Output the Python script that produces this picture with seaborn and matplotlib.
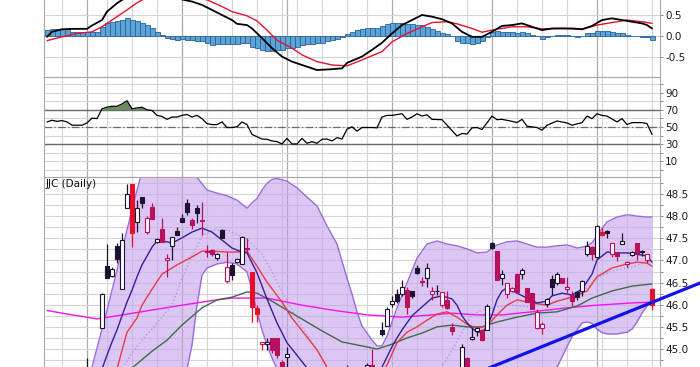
import matplotlib
matplotlib.use("Agg")
import matplotlib.pyplot as plt
from matplotlib.patches import Rectangle
from matplotlib.ticker import FormatStrFormatter
import seaborn as sns

# ---------------- data (x = trading-day index) ----------------
week_days = [3, 12, 17, 22, 32, 37, 42, 47, 50, 55, 60, 64, 74, 79, 84, 94, 99, 104, 111, 116, 121]
month_days = [8, 27, 48, 69, 89, 110]

# MACD panel
macd_days = [0, 1, 3, 5, 8, 9, 11, 12, 14, 15, 18, 21, 24, 27, 29, 31, 33, 35, 37, 38, 40, 41, 43, 45,
             47, 49, 51, 54, 57, 59, 60, 63, 65, 67, 69, 71, 73, 75, 77, 79, 81, 83, 85, 87, 89, 91,
             93, 95, 97, 99, 101, 103, 105, 107, 109, 111, 113, 115, 117, 119, 120, 121]
macd_vals = [-0.02, 0.10, 0.16, 0.17, 0.17, 0.25, 0.38, 0.58, 0.78, 0.86, 1.02, 1.08, 1.03, 0.87,
             0.82, 0.74, 0.62, 0.50, 0.38, 0.29, 0.26, 0.18, -0.05, -0.29, -0.49, -0.61, -0.69,
             -0.81, -0.79, -0.77, -0.64, -0.49, -0.33, -0.16, 0.06, 0.26, 0.38, 0.50, 0.46, 0.40,
             0.30, 0.10, -0.02, -0.02, 0.10, 0.24, 0.26, 0.30, 0.22, 0.14, 0.18, 0.18, 0.18, 0.16,
             0.24, 0.38, 0.42, 0.38, 0.34, 0.30, 0.26, 0.18]
sig_days = [0, 3, 6, 9, 11, 13, 16, 18, 20, 23, 26, 29, 32, 35, 37, 40, 42, 44, 46, 49, 51, 54, 57,
            60, 63, 67, 69, 72, 75, 77, 80, 82, 85, 87, 89, 93, 96, 99, 103, 107, 110, 114, 116,
            119, 121]
sig_vals = [-0.11, -0.02, 0.06, 0.10, 0.22, 0.38, 0.62, 0.79, 0.92, 1.00, 0.99, 0.93, 0.86, 0.70,
            0.58, 0.48, 0.36, 0.14, -0.10, -0.29, -0.45, -0.61, -0.69, -0.71, -0.57, -0.37, -0.14,
            0.06, 0.22, 0.32, 0.34, 0.29, 0.18, 0.09, 0.14, 0.22, 0.22, 0.17, 0.18, 0.16, 0.26,
            0.34, 0.38, 0.34, 0.30]
hist_days = list(range(122))
hist_vals = [0.14, 0.16, 0.16, 0.17, 0.16, 0.09, 0.09, 0.09, 0.09, 0.10, 0.10, 0.22, 0.30, 0.34,
             0.36, 0.38, 0.42, 0.38, 0.36, 0.32, 0.26, 0.18, 0.10, 0.02,
             -0.04, -0.08, -0.10, -0.08, -0.10, -0.10, -0.12, -0.13, -0.17, -0.21, -0.20, -0.20,
             -0.20, -0.20, -0.20, -0.17, -0.16, -0.25, -0.29, -0.33, -0.35, -0.35, -0.33, -0.33,
             -0.29, -0.28, -0.25, -0.21, -0.20, -0.20, -0.17, -0.16, -0.13, -0.10, -0.06, -0.03,
             0.04,
             0.10, 0.14, 0.17, 0.18, 0.20, 0.18, 0.24, 0.29, 0.32, 0.32, 0.32, 0.29, 0.29, 0.26,
             0.26, 0.22, 0.16, 0.13, 0.08, 0.05, 0.005, -0.11, -0.16, -0.17, -0.19, -0.16, -0.11,
             -0.03, 0.09, 0.11, 0.10, 0.10, 0.09, 0.08, 0.09, 0.06, 0.02, 0.005, -0.06, -0.03,
             0.005, 0.02, 0.02, 0.02, 0.005, -0.02, 0.005, 0.06, 0.08, 0.12, 0.13, 0.13, 0.10,
             0.08, 0.06, 0.03, 0.005, 0.005, -0.02, -0.02, -0.10]

# RSI(14)
rsi_days = [0, 1, 2, 3, 4, 5, 7, 8, 9, 10, 11, 12, 13, 14, 15, 16, 17, 18, 19, 20, 21, 22, 23, 24,
            25, 26, 27, 28, 29, 30, 31, 32, 33, 34, 35, 36, 37, 38, 39, 40, 41, 42, 43, 44, 45, 46,
            47, 48, 49, 50, 51, 52, 53, 54, 55, 56, 57, 58, 59, 60, 61, 62, 63, 65, 66, 67, 68, 69,
            71, 72, 73, 74, 75, 76, 77, 79, 80, 82, 83, 84, 85, 86, 87, 89, 90, 91, 93, 94, 95, 96,
            98, 99, 100, 102, 104, 105, 107, 108, 109, 110, 111, 112, 114, 115, 116, 117, 119,
            120, 121]
rsi_vals = [55.9, 57.8, 56.6, 57.4, 55.9, 52.1, 52.1, 54.7, 60.4, 59.7, 71.1, 73.0, 74.1, 74.1,
            76.8, 80.6, 71.1, 72.2, 73.0, 70.0, 69.2, 63.5, 62.3, 58.9, 61.6, 61.6, 63.5, 64.6,
            61.6, 63.5, 59.7, 54.0, 52.8, 52.8, 55.9, 49.4, 49.4, 50.2, 55.9, 52.8, 41.4, 38.7,
            36.0, 35.7, 33.8, 33.0, 30.3, 36.8, 30.3, 30.3, 36.8, 31.1, 33.0, 31.1, 35.7, 36.0,
            33.8, 37.6, 36.0, 47.4, 50.2, 45.2, 49.4, 49.4, 49.0, 61.6, 63.5, 63.5, 65.4, 58.9,
            61.6, 65.4, 62.7, 64.2, 58.9, 58.5, 52.1, 39.5, 42.5, 41.8, 49.0, 49.4, 47.1, 62.7,
            58.5, 58.9, 56.6, 55.1, 58.9, 50.9, 49.4, 46.3, 52.1, 57.0, 54.7, 52.1, 55.1, 62.7,
            59.7, 65.4, 63.5, 62.7, 55.9, 59.7, 52.8, 55.1, 55.1, 54.0, 41.4]

# price panel: Bollinger bands (20,2)
bb_days = [0, 4, 8, 9, 10, 11, 12, 13, 14, 15, 16, 17, 18, 19, 22, 25, 28, 29, 30, 31, 32, 34, 36,
           38, 40, 41, 42, 43, 44, 45, 46, 48, 50, 52, 54, 56, 58, 60, 61, 62, 63, 64, 65, 66, 67,
           68, 69, 70, 72, 74, 76, 78, 80, 82, 84, 86, 88, 90, 92, 94, 96, 98, 100, 102, 103, 104,
           105, 106, 107, 108, 109, 110, 111, 112, 114, 116, 117, 118, 119, 120, 121]
bb_upper = [44.00, 44.10, 44.30, 44.59, 45.02, 45.45, 45.88, 46.33, 46.78, 47.24, 47.69, 48.14,
            48.59, 49.00, 49.40, 49.50, 49.30, 49.05, 48.88, 48.73, 48.59, 48.52, 48.46, 48.36,
            48.18, 48.30, 48.40, 48.59, 48.74, 48.83, 48.85, 48.79, 48.64, 48.43, 48.23, 47.78,
            47.37, 46.60, 46.24, 45.84, 45.52, 45.36, 45.20, 45.07, 45.07, 45.29, 45.61, 45.93,
            46.49, 47.05, 47.37, 47.44, 47.37, 47.33, 47.26, 47.17, 47.19, 47.35, 47.42, 47.44,
            47.37, 47.30, 47.30, 47.33, 47.34, 47.35, 47.32, 47.28, 47.30, 47.33, 47.40, 47.55,
            47.72, 47.87, 47.98, 48.03, 48.02, 48.00, 47.99, 47.98, 47.98]
bb_lower = [43.30, 43.20, 43.10, 43.00, 43.00, 43.00, 43.00, 43.00, 43.00, 43.00, 43.00, 43.00,
            43.00, 43.00, 43.20, 43.60, 44.55, 45.09, 45.99, 46.67, 46.83, 46.92, 46.96, 46.92,
            46.74, 46.33, 45.84, 45.43, 45.09, 44.80, 44.55, 44.10, 43.80, 43.60, 43.50, 43.40,
            43.40, 43.40, 43.40, 43.40, 43.40, 43.40, 43.40, 43.40, 43.40, 43.40, 43.40, 43.40,
            43.50, 43.70, 43.80, 43.90, 44.00, 44.00, 44.00, 44.00, 44.05, 44.10, 44.10, 44.15,
            44.15, 44.20, 44.30, 44.59, 44.82, 45.05, 45.28, 45.43, 45.59, 45.61, 45.58, 45.45,
            45.37, 45.34, 45.34, 45.38, 45.45, 45.61, 45.81, 45.97, 46.05]

# moving averages
fast_days = [11, 12, 13, 14, 15, 16, 17, 18, 19, 21, 22, 24, 25, 27, 29, 31, 33, 35, 37, 39, 40,
             42, 44, 46, 48, 50, 52, 56, 62, 66, 67, 68, 69, 70, 71, 73, 75, 77, 79, 81, 82, 83,
             84, 85, 86, 87, 88, 89, 90, 91, 92, 94, 96, 98, 100, 101, 103, 105, 107, 109, 110,
             112, 114, 116, 118, 120, 121]
fast_vals = [44.55, 44.86, 45.16, 45.43, 45.75, 46.06, 46.33, 46.63, 46.90, 47.30, 47.44, 47.42,
             47.39, 47.51, 47.64, 47.73, 47.64, 47.46, 47.28, 47.19, 47.17, 46.72, 46.13, 45.59,
             45.14, 44.86, 44.57, 44.10, 44.00, 44.40, 44.59, 44.82, 45.05, 45.25, 45.43, 45.75,
             45.95, 46.15, 46.20, 46.13, 45.99, 45.75, 45.59, 45.47, 45.38, 45.38, 45.50, 45.77,
             46.11, 46.31, 46.38, 46.26, 46.15, 46.04, 46.08, 46.20, 46.26, 46.22, 46.35, 46.69,
             47.01, 47.19, 47.17, 47.17, 47.14, 47.10, 46.96]
red_days = [14, 16, 18, 19, 21, 23, 26, 29, 31, 33, 36, 38, 40, 42, 44, 47, 49, 52, 54, 56, 60,
            64, 67, 68, 70, 72, 74, 76, 78, 80, 82, 84, 86, 88, 90, 92, 94, 97, 100, 102, 105,
            108, 110, 113, 116, 118, 120, 121]
red_vals = [44.55, 45.38, 45.70, 45.99, 46.35, 46.69, 46.90, 47.08, 47.21, 47.21, 47.19, 47.19,
            47.21, 46.87, 46.51, 46.06, 45.70, 45.27, 44.98, 44.59, 44.20, 44.20, 44.45, 44.64,
            45.14, 45.38, 45.50, 45.65, 45.79, 45.84, 45.72, 45.56, 45.47, 45.52, 45.77, 45.99,
            46.11, 46.04, 45.99, 46.08, 46.17, 46.31, 46.63, 46.83, 46.92, 46.96, 46.94, 46.87]
mid_days = [15, 17, 19, 21, 23, 25, 27, 29, 31, 33, 36, 37, 40, 43, 45, 48, 51, 54, 56, 62, 70,
            76, 79, 81, 83, 85, 87, 90, 93, 97, 100, 104, 107, 110, 113, 117, 121]
mid_vals = [44.55, 44.91, 45.20, 45.45, 45.72, 45.99, 46.60, 47.10, 47.55, 47.69, 47.69, 47.64,
            47.48, 47.14, 46.74, 46.08, 45.50, 44.98, 44.59, 44.20, 44.10, 44.30, 44.59, 44.98,
            45.38, 45.77, 45.88, 45.95, 45.99, 45.95, 46.04, 46.15, 46.29, 46.60, 46.76, 46.85,
            47.01]
sma50_days = [17, 21, 24, 27, 31, 34, 37, 40, 42, 45, 49, 52, 55, 59, 63, 66, 69, 72, 75, 78, 81,
              84, 87, 90, 94, 98, 102, 106, 109, 113, 117, 121]
sma50_vals = [44.57, 44.95, 45.20, 45.54, 45.93, 46.11, 46.17, 46.29, 46.26, 46.08, 45.81, 45.61,
              45.41, 45.16, 45.07, 45.00, 45.11, 45.25, 45.36, 45.50, 45.54, 45.50, 45.50, 45.61,
              45.72, 45.81, 45.84, 45.97, 46.15, 46.31, 46.42, 46.47]
sma200_days = [0, 4, 10, 14, 21, 27, 34, 37, 44, 51, 57, 64, 71, 77, 81, 86, 91, 97, 104, 110,
               117, 121]
sma200_vals = [45.87, 45.79, 45.68, 45.75, 45.88, 45.99, 46.11, 46.15, 46.15, 45.99, 45.88, 45.77,
               45.72, 45.77, 45.81, 45.77, 45.77, 45.84, 45.93, 45.99, 46.04, 46.06]
trend_days = [80, 135]
trend_vals = [44.19, 46.69]

# daily candles (k = close up, c/r = close down)
cd_day = [8, 11, 12, 13, 14, 15, 16, 17, 18, 19, 20, 21, 22, 23, 24, 25, 26, 27, 28, 29, 30, 31,
          32, 33, 34, 35, 36, 37, 38, 39, 40, 41, 42, 43, 44, 45, 46, 47, 48, 60, 64, 65, 67, 68,
          69, 70, 71, 72, 73, 74, 75, 76, 77, 78, 79, 80, 81, 83, 84, 85, 86, 87, 88, 89, 90, 91,
          92, 93, 94, 95, 96, 97, 98, 99, 100, 101, 102, 103, 104, 105, 106, 107, 108, 109, 110,
          111, 112, 113, 114, 115, 116, 117, 118, 119, 120, 121]
cd_open = [44.40, 45.47, 46.87, 46.65, 47.33, 46.35, 48.19, 48.73, 47.86, 48.44, 47.65, 48.20,
           47.42, 47.72, 47.00, 47.33, 47.66, 47.95, 48.29, 47.91, 48.19, 47.92, 47.22, 47.24,
           47.06, 47.68, 46.54, 46.90, 46.96, 46.92, 47.28, 46.75, 45.92, 45.11, 45.11, 45.24,
           45.24, 44.71, 44.83, 44.30, 44.55, 44.62, 45.43, 45.53, 46.01, 46.24, 46.24, 46.33,
           46.31, 46.84, 46.53, 46.60, 46.24, 46.31, 45.99, 46.11, 45.50, 44.40, 44.79, 45.23,
           45.41, 45.43, 45.43, 47.39, 47.21, 46.60, 46.24, 46.31, 46.69, 46.69, 46.37, 46.26,
           45.47, 45.47, 46.01, 46.57, 46.48, 46.60, 46.35, 46.22, 46.29, 46.31, 47.14, 47.30,
           47.08, 47.65, 47.67, 47.14, 47.16, 47.38, 46.91, 47.12, 47.39, 47.22, 47.01, 46.35]
cd_high = [44.80, 46.27, 47.37, 46.85, 47.40, 47.61, 48.73, 48.73, 48.36, 48.44, 48.00, 48.30,
           47.50, 47.95, 47.14, 47.53, 47.75, 48.05, 48.38, 47.95, 48.25, 48.33, 47.35, 47.26,
           47.16, 47.72, 47.20, 46.95, 47.05, 47.55, 47.51, 46.75, 46.00, 45.16, 45.25, 45.24,
           45.24, 44.75, 45.05, 44.64, 44.68, 45.01, 45.62, 45.95, 46.20, 46.35, 46.55, 46.40,
           46.31, 46.90, 46.62, 46.95, 46.40, 46.45, 46.29, 46.30, 45.58, 45.12, 44.82, 45.50,
           45.50, 45.45, 46.02, 47.42, 47.21, 46.78, 46.48, 46.40, 46.72, 46.83, 46.37, 46.26,
           45.90, 45.60, 46.15, 46.66, 46.75, 46.60, 46.62, 46.30, 46.30, 46.56, 47.43, 47.33,
           47.80, 47.75, 47.68, 47.39, 47.20, 47.62, 46.98, 47.22, 47.39, 47.24, 47.14, 46.38]
cd_low = [44.30, 45.47, 46.60, 46.62, 46.95, 46.35, 48.19, 47.30, 47.65, 48.18, 47.60, 47.93,
          47.40, 47.41, 46.63, 47.00, 47.57, 47.87, 48.03, 47.72, 47.85, 47.57, 47.08, 47.10,
          47.02, 47.50, 46.50, 46.55, 46.95, 46.92, 47.18, 45.62, 45.62, 44.98, 44.98, 44.90,
          44.80, 44.30, 44.50, 44.20, 44.40, 44.40, 45.30, 45.53, 45.95, 46.05, 46.20, 45.78,
          46.15, 46.70, 46.43, 46.40, 46.10, 46.21, 45.95, 45.90, 45.32, 44.30, 44.30, 45.20,
          45.30, 45.18, 45.43, 47.25, 46.55, 46.45, 46.15, 46.28, 46.29, 46.58, 46.07, 45.90,
          45.45, 45.35, 45.95, 46.23, 46.45, 46.48, 46.26, 45.98, 46.10, 46.20, 47.10, 47.00,
          47.05, 47.55, 47.50, 47.08, 46.98, 47.38, 46.85, 47.10, 47.00, 47.10, 46.95, 45.88]
cd_close = [44.50, 46.24, 46.61, 46.80, 47.03, 47.46, 48.50, 47.61, 48.18, 48.30, 47.95, 47.93,
            47.48, 47.41, 47.05, 47.53, 47.57, 47.87, 48.10, 47.80, 48.06, 47.90, 47.19, 47.14,
            47.14, 47.51, 46.86, 46.67, 47.03, 47.52, 47.26, 45.96, 45.79, 45.16, 45.16, 44.98,
            44.86, 44.40, 44.89, 44.50, 44.65, 44.65, 45.33, 45.90, 46.08, 46.08, 46.41, 45.96,
            46.20, 46.72, 46.51, 46.82, 46.32, 46.30, 46.29, 45.93, 45.41, 45.05, 44.40, 45.28,
            45.47, 45.20, 45.98, 47.27, 46.55, 46.69, 46.48, 46.38, 46.29, 46.78, 46.07, 45.90,
            45.84, 45.56, 46.14, 46.41, 46.69, 46.48, 46.39, 46.08, 46.18, 46.54, 47.33, 47.14,
            47.78, 47.57, 47.63, 47.39, 47.11, 47.44, 46.96, 47.20, 47.16, 47.18, 47.14, 45.99]
cd_color = ['k', 'k', 'k', 'k', 'k', 'k', 'k', 'r', 'k', 'k', 'c', 'c', 'k', 'c', 'c', 'k', 'k',
            'k', 'k', 'c', 'k', 'c', 'c', 'c', 'k', 'k', 'c', 'k', 'k', 'k', 'c', 'r', 'r', 'r',
            'k', 'c', 'c', 'c', 'k', 'k', 'k', 'c', 'k', 'k', 'k', 'k', 'k', 'c', 'k', 'k', 'c',
            'k', 'c', 'k', 'c', 'c', 'c', 'k', 'c', 'k', 'k', 'c', 'k', 'k', 'c', 'k', 'c', 'c',
            'c', 'k', 'c', 'c', 'c', 'c', 'k', 'k', 'k', 'c', 'c', 'c', 'k', 'k', 'k', 'c', 'k',
            'r', 'k', 'c', 'c', 'k', 'c', 'k', 'c', 'k', 'c', 'r']

# ---------------- style ----------------
sns.set_theme(style="white")
plt.rcParams['font.family'] = ['DejaVu Sans']
plt.rcParams['axes.unicode_minus'] = False

candle_pal = {'k': '#1d1230', 'c': '#b8105c', 'r': '#e5102c'}
GRID = '#d5d5d5'
MONTH = '#ababab'
SPINE = '#a8a8a8'
XLIM = (-0.6, 122.5)

fig = plt.figure(figsize=(7, 3.67), dpi=100)
L, W = 44 / 700, 615.5 / 700
ax_macd = fig.add_axes([L, 290 / 367, W, 77 / 367])
ax_rsi = fig.add_axes([L, 190 / 367, W, 100 / 367])
ax_px = fig.add_axes([L, 0, W, 190 / 367])


def base_axes(ax, ylim, major, minor, fmt):
    ax.set_xlim(*XLIM)
    ax.set_ylim(*ylim)
    ax.set_facecolor('white')
    for d in week_days:
        ax.axvline(d, color=GRID, lw=0.8, zorder=0)
    for d in month_days:
        ax.axvline(d, color=MONTH, lw=0.9, zorder=0)
    ax.set_yticks(major)
    ax.set_yticks(minor, minor=True)
    ax.yaxis.set_major_formatter(FormatStrFormatter(fmt))
    ax.grid(axis='y', which='both', color=GRID, lw=0.8, zorder=0)
    ax.grid(axis='x', visible=False)
    ax.set_axisbelow(True)
    ax.yaxis.tick_right()
    ax.tick_params(axis='y', which='both', direction='out', length=2.5, width=0.7,
                   color='#8a8a8a', pad=1.5, labelsize=7.5, labelcolor='#1a1a1a')
    ax.tick_params(axis='y', which='minor', length=2)
    ax.tick_params(axis='x', bottom=False, labelbottom=False)
    for s in ax.spines.values():
        s.set_color(SPINE)
        s.set_linewidth(0.8)
    ax.set_xlabel('')
    ax.set_ylabel('')


# ---------------- MACD ----------------
base_axes(ax_macd, (-0.976, 0.857), [-0.5, 0.0, 0.5], [], '%.1f')
ax_macd.spines['top'].set_visible(False)
ax_macd.bar(hist_days, hist_vals, width=1.0, color='#5aa5d5', edgecolor='#2c5f9c',
            linewidth=0.6, zorder=2)
sns.lineplot(x=sig_days, y=sig_vals, ax=ax_macd, color='#e8122e', lw=1.0, zorder=3)
sns.lineplot(x=macd_days, y=macd_vals, ax=ax_macd, color='black', lw=1.3, zorder=4)
ax_macd.set_xlabel('')
ax_macd.set_ylabel('')

# ---------------- RSI ----------------
base_axes(ax_rsi, (-8.1, 108.1), [10, 30, 50, 70, 90], [0, 20, 40, 60, 80, 100], '%d')
for lvl in (70, 30):
    ax_rsi.axhline(lvl, color='#6a6a6a', lw=1.0, zorder=1)
ax_rsi.axhline(50, color='#6a6a6a', lw=0.9, ls='-.', dashes=(6, 2, 1, 2), zorder=1)
ax_rsi.fill_between(rsi_days, rsi_vals, 70, where=[v >= 70 for v in rsi_vals],
                    interpolate=True, color='#6b8c62', lw=0, zorder=2)
sns.lineplot(x=rsi_days, y=rsi_vals, ax=ax_rsi, color='black', lw=0.9, zorder=3)
ax_rsi.set_xlabel('')
ax_rsi.set_ylabel('')

# ---------------- price ----------------
base_axes(ax_px, (44.594, 48.884), [45.0, 45.5, 46.0, 46.5, 47.0, 47.5, 48.0, 48.5],
          [44.75, 45.25, 45.75, 46.25, 46.75, 47.25, 47.75, 48.25, 48.75], '%.1f')
ax_px.spines['bottom'].set_visible(False)
ax_px.fill_between(bb_days, bb_lower, bb_upper, color='#c5a3ed', alpha=0.6, lw=0, zorder=1)
sns.lineplot(x=bb_days, y=bb_upper, ax=ax_px, color='#9a6be0', lw=1.0, zorder=2)
sns.lineplot(x=bb_days, y=bb_lower, ax=ax_px, color='#9a6be0', lw=1.0, zorder=2)
sns.lineplot(x=mid_days, y=mid_vals, ax=ax_px, color='#b596e6', lw=1.0, ls=':', zorder=2)
sns.lineplot(x=sma200_days, y=sma200_vals, ax=ax_px, color='#f014f0', lw=1.0, zorder=2)
sns.lineplot(x=sma50_days, y=sma50_vals, ax=ax_px, color='#3f6b48', lw=1.0, zorder=2)
sns.lineplot(x=red_days, y=red_vals, ax=ax_px, color='#ea3a42', lw=1.0, zorder=2)
sns.lineplot(x=fast_days, y=fast_vals, ax=ax_px, color='#33209c', lw=1.0, zorder=2)

for d, o, h, lo, c, k in zip(cd_day, cd_open, cd_high, cd_low, cd_close, cd_color):
    col = candle_pal[k]
    ax_px.vlines(d, lo, h, color=col, lw=0.9, zorder=4)
    bottom, height = min(o, c), max(abs(c - o), 0.015)
    face = 'white' if c > o else col
    ax_px.add_patch(Rectangle((d - 0.33, bottom), 0.66, height, facecolor=face,
                              edgecolor=col, lw=0.8, zorder=5))

sns.lineplot(x=trend_days, y=trend_vals, ax=ax_px, color='#0f14ee', lw=2.3, zorder=6,
             clip_on=False)
ax_px.set_xlabel('')
ax_px.set_ylabel('')
ax_px.text(0.003, 0.99, 'JJC (Daily)', transform=ax_px.transAxes, ha='left', va='top',
           fontsize=7.5, color='#111111', zorder=7)

fig.savefig('out.png', dpi=100)
